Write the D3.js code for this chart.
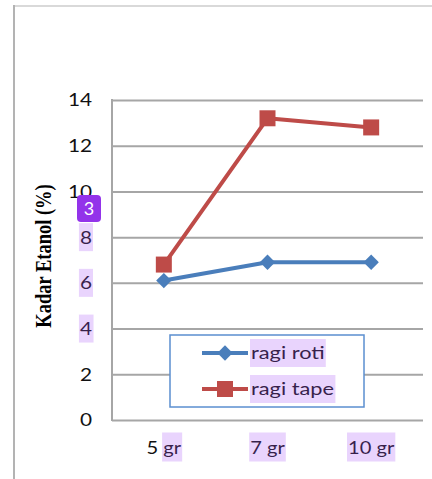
<!DOCTYPE html>
<html>
<head>
<meta charset="utf-8">
<script src="https://cdn.jsdelivr.net/npm/d3@7"></script>
<style>
  html, body { margin: 0; padding: 0; background: #fff; }
  svg { display: block; }
</style>
</head>
<body>
<script>
// Ethanol content for two yeast types at three yeast doses
const categories = ["5 gr", "7 gr", "10 gr"];
const ragiRoti = [6.1, 6.9, 6.9];
const ragiTape = [6.8, 13.2, 12.8];
const yTicks = [0, 2, 4, 6, 8, 10, 12, 14];
const seriesNames = ["ragi roti", "ragi tape"];
const yTitle = "Kadar Etanol (%)";

const W = 432, H = 479;
const plot = { left: 112, right: 423, top: 100, bottom: 420 };
const sansFont = "Lato, 'Open Sans', sans-serif";

const svg = d3.select("body").append("svg")
  .attr("width", W).attr("height", H);

// outer chart frame
svg.append("line").attr("x1", 14).attr("x2", W).attr("y1", 6).attr("y2", 6)
  .attr("stroke", "#d9d9d9").attr("stroke-width", 2);
svg.append("line").attr("x1", 14).attr("x2", 14).attr("y1", 5).attr("y2", H)
  .attr("stroke", "#b3b3b3").attr("stroke-width", 2);

const x = d3.scaleBand().domain(categories).range([plot.left, plot.right]).padding(0);
const y = d3.scaleLinear().domain([0, 14]).range([plot.bottom, plot.top]);
const cx = d => x(d) + x.bandwidth() / 2;

// stretch a text element horizontally by a fixed factor
function widen(sel, f) {
  sel.each(function () {
    const n = this.getComputedTextLength();
    d3.select(this).attr("textLength", n * f).attr("lengthAdjust", "spacingAndGlyphs");
  });
}

// gridlines + y tick labels
const yAxis = d3.axisLeft(y).tickValues(yTicks).tickSize(-(plot.right - plot.left))
  .tickPadding(20).tickFormat(d3.format("d"));
const gy = svg.append("g").attr("transform", `translate(${plot.left},0)`).call(yAxis);
gy.select(".domain").remove();
gy.selectAll(".tick line").attr("stroke", "#a6a6a6").attr("stroke-width", 2);
gy.selectAll(".tick text").attr("font-family", sansFont).attr("font-size", 16.5)
  .attr("fill", "#111").attr("dy", "0.36em").call(widen, 1.26);

// plot area left edge
svg.append("line").attr("x1", plot.left).attr("x2", plot.left)
  .attr("y1", plot.top - 1).attr("y2", plot.bottom + 1)
  .attr("stroke", "#a6a6a6").attr("stroke-width", 2);

// x category labels
const xAxis = d3.axisBottom(x).tickSize(0).tickPadding(0);
const gx = svg.append("g").attr("transform", `translate(0,${plot.bottom})`).call(xAxis);
gx.select(".domain").remove();
gx.selectAll(".tick text").attr("font-family", sansFont).attr("font-size", 16.5)
  .attr("fill", "#111").attr("dy", 0).attr("y", 34).call(widen, 1.22);

// series
const series = [
  { name: seriesNames[0], values: ragiRoti, color: "#4a7ebb", shape: "diamond" },
  { name: seriesNames[1], values: ragiTape, color: "#be4b48", shape: "square" }
];
const line = d3.line().x((d, i) => cx(categories[i])).y(d => y(d));

function marker(shape) {
  return shape === "square"
    ? d3.symbol().type(d3.symbolSquare).size(256)()
    : d3.symbol().type(d3.symbolDiamond2).size(150)();
}

series.forEach(s => {
  svg.append("path").attr("d", line(s.values)).attr("fill", "none")
    .attr("stroke", s.color).attr("stroke-width", 4).attr("stroke-linejoin", "round");
});
series.forEach(s => {
  svg.append("g").selectAll("path").data(s.values).join("path")
    .attr("transform", (d, i) => `translate(${cx(categories[i])},${y(d)})`)
    .attr("d", marker(s.shape))
    .attr("fill", s.color);
});

// legend
const leg = svg.append("g");
leg.append("rect").attr("x", 170).attr("y", 335).attr("width", 194).attr("height", 72)
  .attr("fill", "#fff").attr("stroke", "#5b8fd0").attr("stroke-width", 1.5);
const rows = leg.selectAll("g.row").data(series).join("g")
  .attr("transform", (d, i) => `translate(0,${353 + i * 36})`);
rows.append("line").attr("x1", 202).attr("x2", 248).attr("stroke", d => d.color).attr("stroke-width", 4);
rows.append("path").attr("transform", "translate(225,0)")
  .attr("d", d => marker(d.shape))
  .attr("fill", d => d.color);
rows.append("text").attr("x", 251).attr("dy", "0.36em").attr("font-family", sansFont)
  .attr("font-size", 16.5).attr("fill", "#111").text(d => d.name).call(widen, 1.32);

// y-axis title
svg.append("text")
  .attr("transform", `translate(43,256) scale(1.3,1) rotate(-90)`)
  .attr("text-anchor", "middle").attr("dy", "0.35em")
  .attr("font-family", "'Liberation Serif', 'Times New Roman', serif")
  .attr("font-weight", "bold").attr("font-size", 18.5).attr("fill", "#000")
  .text(yTitle);

// selection highlights over some labels
const hl = svg.append("g").attr("pointer-events", "none");
function highlight(x0, x1, ymid, h) {
  hl.append("rect").attr("x", x0).attr("y", ymid - h / 2).attr("width", x1 - x0).attr("height", h)
    .attr("fill", "#a855f7").attr("opacity", 0.25);
}
gy.selectAll(".tick").filter(d => d === 4 || d === 6 || d === 8).each(function (d) {
  const b = d3.select(this).select("text").node().getBBox();
  highlight(plot.left + b.x - 1, plot.left + b.x + b.width + 1, y(d), 28);
});
gx.selectAll(".tick").each(function (d) {
  const t = d3.select(this).select("text").node();
  const b = t.getBBox();
  const tx = x(d) + x.bandwidth() / 2;
  let x0 = tx + b.x - 1;
  if (d === categories[0]) x0 = tx + b.x + b.width * 0.45;
  highlight(x0, tx + b.x + b.width + 1, plot.bottom + 27, 29);
});
rows.each(function (d, i) {
  const b = d3.select(this).select("text").node().getBBox();
  highlight(b.x - 1, b.x + b.width + 1, 353 + i * 36, 28);
});

// numbered marker badge
const badge = svg.append("g").attr("transform", "translate(77,195)");
badge.append("rect").attr("width", 24).attr("height", 27).attr("rx", 4).attr("fill", "#9333ea");
badge.append("text").attr("x", 12).attr("y", 13.5).attr("dy", "0.36em").attr("text-anchor", "middle")
  .attr("font-family", sansFont).attr("font-size", 18).attr("fill", "#fff").text("3");
</script>
</body>
</html>
